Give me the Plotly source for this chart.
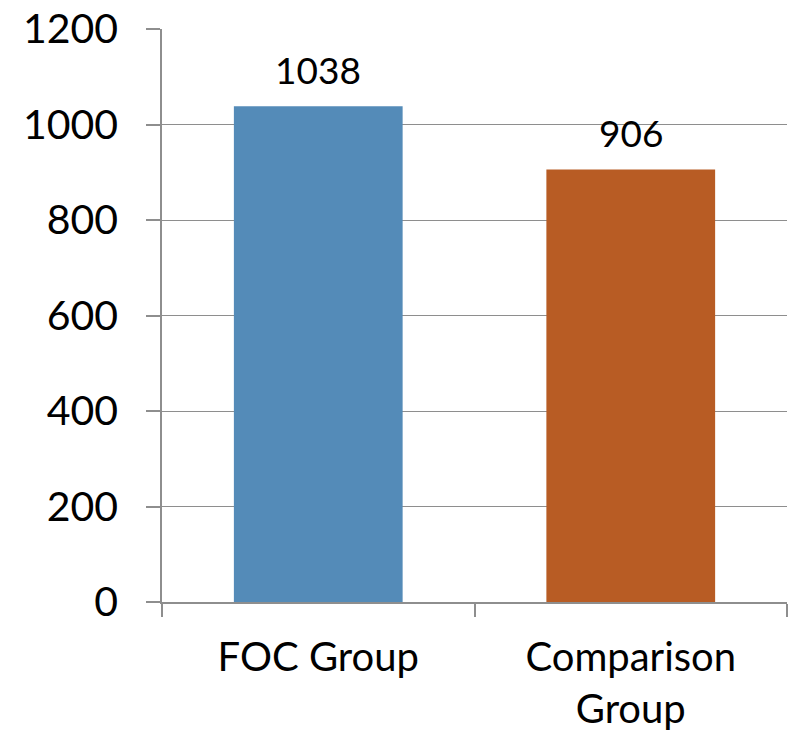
import plotly.graph_objects as go

# Group totals
categories = ["FOC Group", "Comparison<br>Group"]
values = [1038, 906]
bar_colors = ["#548BB8", "#B85C24"]

y_ticks = [0, 200, 400, 600, 800, 1000, 1200]

FONT = "Lato, 'Open Sans', sans-serif"
AXIS_GREY = "#8E8E8E"

fig = go.Figure()
fig.add_trace(go.Bar(
    x=categories,
    y=values,
    marker=dict(color=bar_colors, line=dict(width=0)),
    width=0.54,
    hoverinfo="skip",
))

# Value labels above each bar
for cat, val in zip(categories, values):
    fig.add_annotation(
        x=cat, y=val, text=str(val), showarrow=False,
        yanchor="bottom", yshift=12,
        font=dict(family=FONT, size=37, color="#000000"),
    )

fig.update_layout(
    width=792, height=731,
    margin=dict(l=162, r=5, t=29, b=129, autoexpand=False),
    paper_bgcolor="white", plot_bgcolor="white",
    showlegend=False,
    font=dict(family=FONT, color="#000000"),
    bargap=0.46,
)

fig.update_yaxes(
    range=[0, 1200],
    tickvals=y_ticks,
    automargin=False,
    showgrid=True, gridcolor=AXIS_GREY, gridwidth=1,
    showline=True, linecolor=AXIS_GREY, linewidth=1.5,
    ticks="outside", ticklen=14, tickcolor=AXIS_GREY, tickwidth=1.5,
    ticklabelstandoff=20,
    tickfont=dict(family=FONT, size=41, color="#000000"),
    zeroline=False,
)

fig.update_xaxes(
    automargin=False,
    showgrid=False,
    showline=True, linecolor=AXIS_GREY, linewidth=1.5,
    ticks="outside", ticklen=13, tickcolor=AXIS_GREY, tickwidth=1.5,
    tickson="boundaries",
    ticklabelstandoff=19,
    tickfont=dict(family=FONT, size=40, color="#000000"),
)

fig.write_html("out.html", config={"displayModeBar": False})
